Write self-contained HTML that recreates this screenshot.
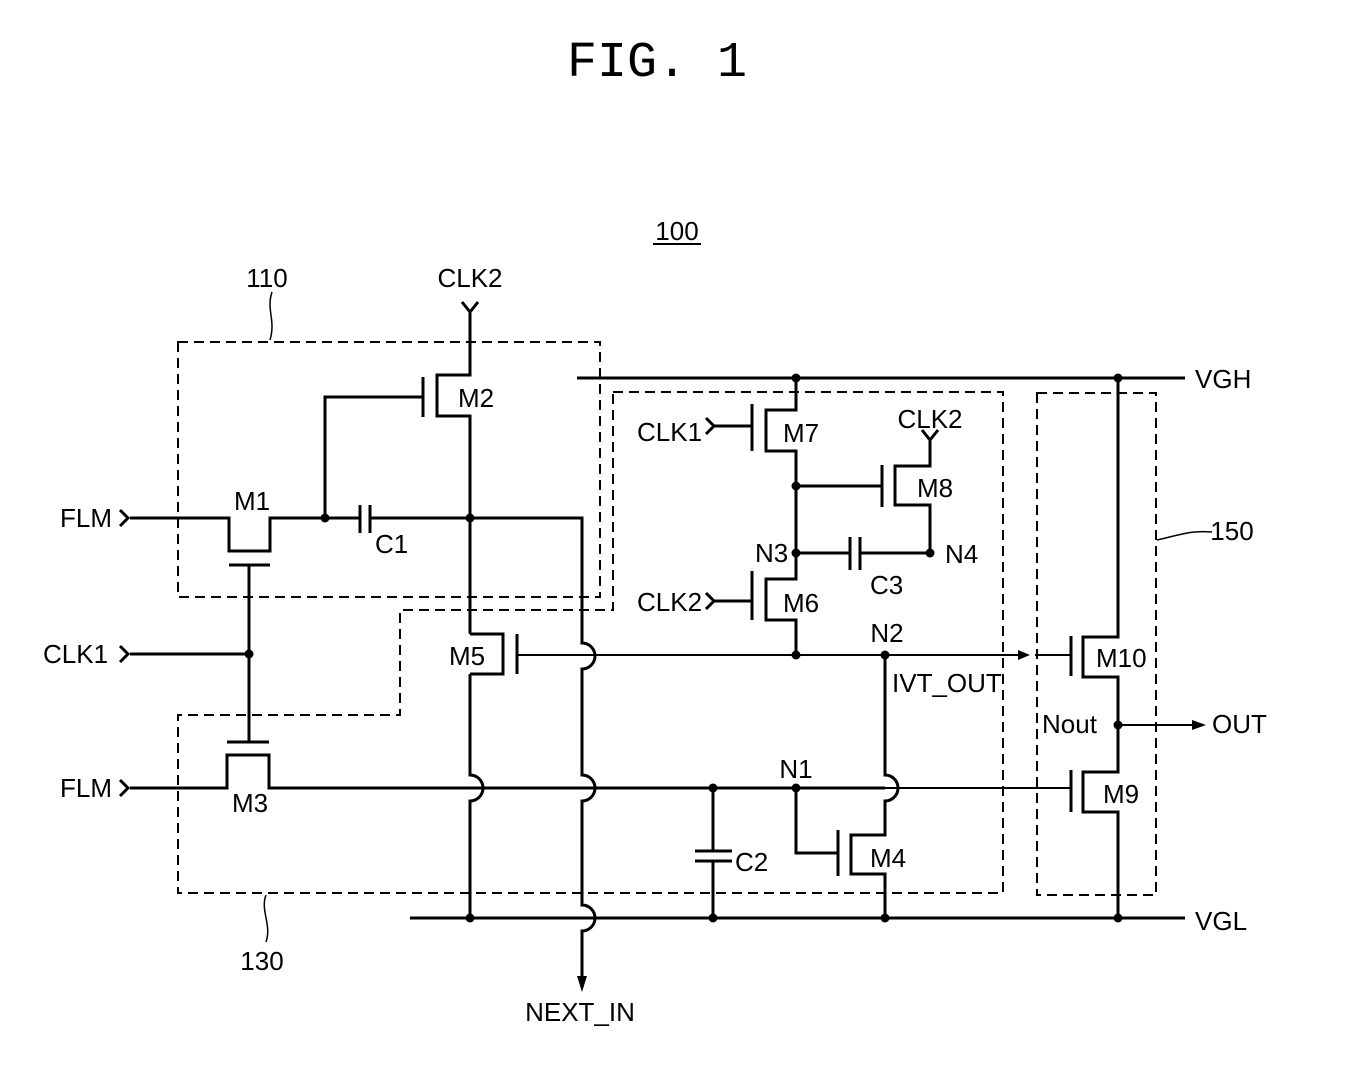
<!DOCTYPE html>
<html><head><meta charset="utf-8"><style>
html,body{margin:0;padding:0;background:#fff;}
svg{display:block;}
text{font-family:"Liberation Sans",sans-serif;fill:#000;}
</style></head><body>
<svg width="1346" height="1075" viewBox="0 0 1346 1075" xmlns="http://www.w3.org/2000/svg">
<text x="657" y="76" font-size="50" text-anchor="middle" font-family="Liberation Mono" style="font-family:'Liberation Mono',monospace">FIG. 1</text>
<text x="677" y="240" font-size="26" text-anchor="middle">100</text>
<line x1="653" y1="244" x2="701" y2="244" stroke="#000" stroke-width="2"/>

<g fill="none" stroke="#000" stroke-width="2" stroke-dasharray="10,6">
<rect x="178" y="342" width="422" height="255"/>
<path d="M613 392 L1003 392 L1003 893 L178 893 L178 715 L400 715 L400 610 L613 610 Z"/>
<rect x="1037" y="393" width="119" height="502"/>
</g>
<g fill="none" stroke="#000" stroke-width="1.5">
<path d="M272 292 C266 310,276 320,270 340"/>
<path d="M266 895 C260 910,272 925,266 942"/>
<path d="M1157 540 C1180 535,1190 530,1212 532"/>
</g>
<text x="267" y="287" font-size="26" text-anchor="middle">110</text>
<text x="262" y="970" font-size="26" text-anchor="middle">130</text>
<text x="1232" y="540" font-size="26" text-anchor="middle">150</text>

<g fill="none" stroke="#000" stroke-width="3">
<path d="M462 302 L470 312 L478 302"/>
<path d="M470 312 L470 375 L437 375 L437 416 L470 416 L470 634 M470 674 L470 775 A13 13 0 0 1 470 801 L470 918"/>
<line x1="423" y1="377" x2="423" y2="417"/>
<path d="M423 397 L325 397 L325 518"/>
<path d="M120 510 L128 518 L120 526"/>
<path d="M130 518 L229 518 L229 551 L270 551 L270 518 L360 518"/>
<line x1="360" y1="505" x2="360" y2="533"/>
<line x1="370" y1="505" x2="370" y2="533"/>
<path d="M370 518 L582 518 L582 643 A13 13 0 0 1 582 669 L582 775 A13 13 0 0 1 582 801 L582 905 A13 13 0 0 1 582 931 L582 978"/>
<line x1="229" y1="565" x2="270" y2="565"/>
<line x1="249" y1="565" x2="249" y2="742"/>
<path d="M120 646 L128 654 L120 662"/>
<line x1="130" y1="654" x2="249" y2="654"/>
<line x1="227" y1="742" x2="269" y2="742"/>
<path d="M120 780 L128 788 L120 796"/>
<path d="M130 788 L227 788 L227 755 L269 755 L269 788 L885 788"/>
<path d="M885 788 L1071 788" stroke-width="2"/>
<path d="M470 634 L503 634 L503 674 L470 674"/>
<line x1="517" y1="634" x2="517" y2="674"/>
<line x1="517" y1="655" x2="1025" y2="655" stroke-width="2"/>
<line x1="1035" y1="655" x2="1071" y2="655" stroke-width="2"/>
<line x1="577" y1="378" x2="1185" y2="378"/>
<line x1="410" y1="918" x2="1185" y2="918"/>
<path d="M796 378 L796 410 L766 410 L766 451 L796 451 L796 579 L766 579 L766 620 L796 620 L796 655"/>
<line x1="752" y1="404" x2="752" y2="451"/>
<path d="M706 418 L714 426 L706 434"/>
<line x1="714" y1="426" x2="752" y2="426"/>
<line x1="752" y1="571" x2="752" y2="620"/>
<path d="M706 593 L714 601 L706 609"/>
<line x1="714" y1="601" x2="752" y2="601"/>
<line x1="796" y1="486" x2="882" y2="486"/>
<line x1="882" y1="465" x2="882" y2="507"/>
<path d="M930 440 L930 466 L895 466 L895 505 L930 505 L930 553"/>
<path d="M922 430 L930 440 L938 430"/>
<line x1="796" y1="553" x2="850" y2="553"/>
<line x1="850" y1="537" x2="850" y2="570"/>
<line x1="860" y1="537" x2="860" y2="570"/>
<line x1="860" y1="553" x2="930" y2="553"/>
<path d="M885 655 L885 775 A13 13 0 0 1 885 801 L885 835 L851 835 L851 874 L885 874 L885 918"/>
<line x1="838" y1="830" x2="838" y2="876"/>
<path d="M796 788 L796 853 L838 853"/>
<line x1="713" y1="788" x2="713" y2="851"/>
<line x1="695" y1="851" x2="732" y2="851"/>
<line x1="695" y1="861" x2="732" y2="861"/>
<line x1="713" y1="861" x2="713" y2="918"/>
<path d="M1118 378 L1118 637 L1083 637 L1083 677 L1118 677 L1118 772 L1083 772 L1083 812 L1118 812 L1118 918"/>
<line x1="1071" y1="636" x2="1071" y2="676"/>
<line x1="1071" y1="770" x2="1071" y2="812"/>
<line x1="1118" y1="725" x2="1195" y2="725" stroke-width="2"/>
</g>
<g fill="#000">
<polygon points="1018,650 1030,655 1018,660"/>
<polygon points="1192,720 1206,725 1192,730"/>
<polygon points="577,976 582,992 587,976"/>
<circle cx="325" cy="518" r="4.5"/>
<circle cx="470" cy="518" r="4.5"/>
<circle cx="249" cy="654" r="4.5"/>
<circle cx="796" cy="378" r="4.5"/>
<circle cx="1118" cy="378" r="4.5"/>
<circle cx="796" cy="486" r="4.5"/>
<circle cx="796" cy="553" r="4.5"/>
<circle cx="930" cy="553" r="4.5"/>
<circle cx="796" cy="655" r="4.5"/>
<circle cx="885" cy="655" r="4.5"/>
<circle cx="713" cy="788" r="4.5"/>
<circle cx="796" cy="788" r="4.5"/>
<circle cx="1118" cy="725" r="4.5"/>
<circle cx="470" cy="918" r="4.5"/>
<circle cx="713" cy="918" r="4.5"/>
<circle cx="885" cy="918" r="4.5"/>
<circle cx="1118" cy="918" r="4.5"/>
</g>
<g font-size="26">
<text x="470" y="287" text-anchor="middle">CLK2</text>
<text x="458" y="407">M2</text>
<text x="252" y="510" text-anchor="middle">M1</text>
<text x="375" y="553">C1</text>
<text x="60" y="527">FLM</text>
<text x="43" y="663">CLK1</text>
<text x="60" y="797">FLM</text>
<text x="250" y="812" text-anchor="middle">M3</text>
<text x="449" y="665">M5</text>
<text x="1195" y="388">VGH</text>
<text x="1195" y="930">VGL</text>
<text x="637" y="441">CLK1</text>
<text x="783" y="442">M7</text>
<text x="930" y="428" text-anchor="middle">CLK2</text>
<text x="917" y="497">M8</text>
<text x="755" y="562">N3</text>
<text x="945" y="563">N4</text>
<text x="870" y="594">C3</text>
<text x="637" y="611">CLK2</text>
<text x="783" y="612">M6</text>
<text x="887" y="642" text-anchor="middle">N2</text>
<text x="892" y="692">IVT_OUT</text>
<text x="796" y="778" text-anchor="middle">N1</text>
<text x="735" y="871">C2</text>
<text x="870" y="867">M4</text>
<text x="1096" y="667">M10</text>
<text x="1042" y="733">Nout</text>
<text x="1103" y="803">M9</text>
<text x="1212" y="733">OUT</text>
<text x="580" y="1021" text-anchor="middle">NEXT_IN</text>
</g>
</svg>
</body></html>
